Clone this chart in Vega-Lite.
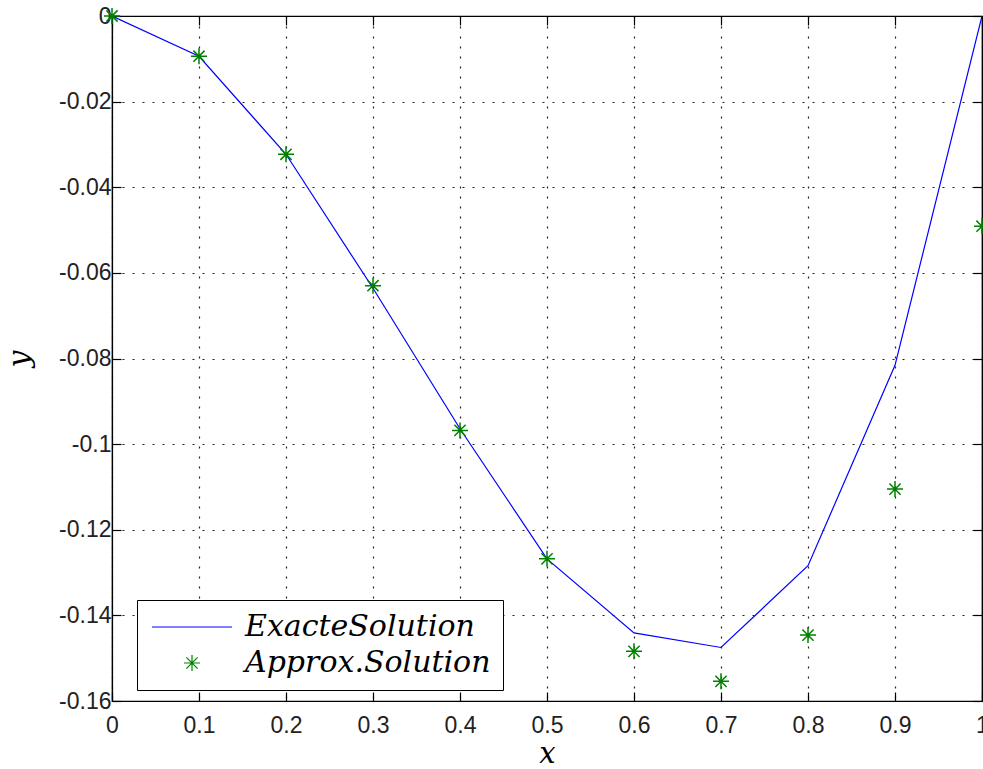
{
  "$schema": "https://vega.github.io/schema/vega-lite/v6.json",
  "width": 870,
  "height": 685,
  "autosize": "none",
  "padding": {"left": 112, "top": 16, "right": 1, "bottom": 68},
  "background": "white",
  "config": {
    "view": {"stroke": "black", "strokeWidth": 1.2},
    "axis": {
      "labelFont": "Liberation Sans",
      "labelFontSize": 23,
      "labelColor": "#222",
      "domainColor": "black",
      "tickColor": "black",
      "tickSize": -9,
      "tickWidth": 1.2,
      "domainWidth": 1.2,
      "titleFont": "DejaVu Serif",
      "titleFontStyle": "italic",
      "titleFontWeight": "normal",
      "titleColor": "black",
      "titleFontSize": 30,
      "gridColor": "#222",
      "gridDash": [2, 8],
      "gridWidth": 1.2,
      "gridOpacity": 1
    },
    "legend": {
      "orient": "none",
      "legendX": 25,
      "legendY": 584,
      "strokeColor": "black",
      "fillColor": "white",
      "padding": 12,
      "rowPadding": 6,
      "symbolSize": 256,
      "symbolOffset": 28,
      "symbolStrokeWidth": 1.2,
      "labelOffset": 38,
      "labelFont": "DejaVu Serif",
      "labelFontStyle": "italic",
      "labelFontSize": 30,
      "labelColor": "black",
      "labelLimit": 500
    }
  },
  "data": {
    "values": [
      {"x": 0.0, "y": 0.0, "series": "ExacteSolution"},
      {"x": 0.1, "y": -0.0094, "series": "ExacteSolution"},
      {"x": 0.2, "y": -0.0323, "series": "ExacteSolution"},
      {"x": 0.3, "y": -0.0636, "series": "ExacteSolution"},
      {"x": 0.4, "y": -0.0964, "series": "ExacteSolution"},
      {"x": 0.5, "y": -0.1268, "series": "ExacteSolution"},
      {"x": 0.6, "y": -0.1441, "series": "ExacteSolution"},
      {"x": 0.7, "y": -0.1475, "series": "ExacteSolution"},
      {"x": 0.8, "y": -0.1284, "series": "ExacteSolution"},
      {"x": 0.9, "y": -0.0816, "series": "ExacteSolution"},
      {"x": 1.0, "y": 0.0, "series": "ExacteSolution"},
      {"x": 0.0, "y": 0.0, "series": "Approx.Solution"},
      {"x": 0.1, "y": -0.0094, "series": "Approx.Solution"},
      {"x": 0.2, "y": -0.0323, "series": "Approx.Solution"},
      {"x": 0.3, "y": -0.063, "series": "Approx.Solution"},
      {"x": 0.4, "y": -0.0968, "series": "Approx.Solution"},
      {"x": 0.5, "y": -0.1268, "series": "Approx.Solution"},
      {"x": 0.6, "y": -0.1484, "series": "Approx.Solution"},
      {"x": 0.7, "y": -0.1554, "series": "Approx.Solution"},
      {"x": 0.8, "y": -0.1446, "series": "Approx.Solution"},
      {"x": 0.9, "y": -0.1105, "series": "Approx.Solution"},
      {"x": 1.0, "y": -0.0491, "series": "Approx.Solution"}
    ]
  },
  "layer": [
    {
      "transform": [{"filter": "datum.series === 'ExacteSolution'"}],
      "mark": {"type": "line", "color": "#0000ff", "strokeWidth": 1.2, "clip": true},
      "encoding": {
        "x": {
          "field": "x", "type": "quantitative",
          "scale": {"domain": [0, 1], "nice": false, "zero": false},
          "axis": {
            "orient": "bottom", "title": "x", "grid": true,
            "values": [0, 0.1, 0.2, 0.3, 0.4, 0.5, 0.6, 0.7, 0.8, 0.9, 1],
            "labelExpr": "'' + datum.value",
            "labelPadding": 22, "titlePadding": 2, "titleFontSize": 29, "labelFlush": false
          }
        },
        "y": {
          "field": "y", "type": "quantitative",
          "scale": {"domain": [-0.16, 0], "nice": false, "zero": false},
          "axis": {
            "orient": "left", "title": "y", "grid": true,
            "values": [0, -0.02, -0.04, -0.06, -0.08, -0.1, -0.12, -0.14, -0.16],
            "labelExpr": "'' + datum.value",
            "labelPadding": 10, "titlePadding": 24, "labelFlush": false
          }
        }
      }
    },
    {
      "transform": [{"filter": "datum.series === 'Approx.Solution'"}],
      "mark": {"type": "point", "filled": false, "strokeWidth": 1.5, "size": 256, "opacity": 1, "clip": false},
      "encoding": {
        "x": {
          "field": "x", "type": "quantitative",
          "axis": {
            "orient": "top", "title": null, "labels": false, "grid": false,
            "values": [0, 0.1, 0.2, 0.3, 0.4, 0.5, 0.6, 0.7, 0.8, 0.9, 1]
          }
        },
        "y": {
          "field": "y", "type": "quantitative",
          "axis": {
            "orient": "right", "title": null, "labels": false, "grid": false,
            "values": [0, -0.02, -0.04, -0.06, -0.08, -0.1, -0.12, -0.14, -0.16]
          }
        },
        "color": {
          "field": "series", "type": "nominal",
          "scale": {"domain": ["ExacteSolution", "Approx.Solution"], "range": ["#0000ff", "#008000"]},
          "legend": {"title": null}
        },
        "shape": {
          "field": "series", "type": "nominal",
          "scale": {
            "domain": ["ExacteSolution", "Approx.Solution"],
            "range": ["M-5,0L5,0", "M-1,0L1,0M0,-1L0,1M-0.7,-0.7L0.7,0.7M-0.7,0.7L0.7,-0.7"]
          },
          "legend": {"title": null}
        }
      }
    }
  ],
  "resolve": {"axis": {"x": "independent", "y": "independent"}}
}
